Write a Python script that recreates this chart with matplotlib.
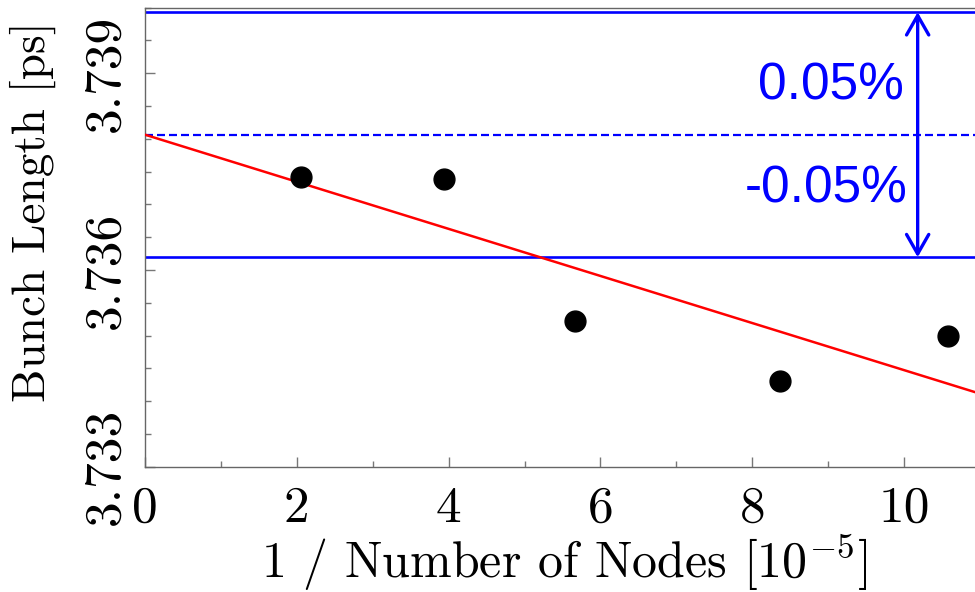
import numpy as np
import matplotlib
matplotlib.use("Agg")
import matplotlib.pyplot as plt
from matplotlib.ticker import FixedLocator, MultipleLocator, NullFormatter

plt.rcParams['font.family'] = ['cmr10', 'DejaVu Serif']
plt.rcParams['mathtext.fontset'] = 'cm'
plt.rcParams['axes.unicode_minus'] = False

# data
inv_nodes = [2.051, 3.935, 5.665, 8.366, 10.584]   # 1/N [1e-5]
bunch_length = [3.73742, 3.73738, 3.73522, 3.73431, 3.73500]  # ps
tolerance = 0.0005  # 0.05 %
y_ticks = [3.733, 3.736, 3.739]
y_tick_labels = ["3.733", "3.736", "3.739"]
x_ticks = [0, 2, 4, 6, 8, 10]

# linear fit, extrapolated to infinite nodes
slope, intercept = np.polyfit(inv_nodes, bunch_length, 1)
upper = intercept * (1 + tolerance)
lower = intercept * (1 - tolerance)

fig = plt.figure(figsize=(9.75, 5.92), dpi=100)
ax = fig.add_axes([145/975, 125.3/592, 11*75.9/975, 459/592])

xfit = np.array([0, 11])
ax.plot(xfit, intercept + slope*xfit, color='red', lw=1.8, zorder=3)
ax.axhline(upper, color='blue', lw=1.9)
ax.axhline(lower, color='blue', lw=1.9)
ax.axhline(intercept, color='blue', lw=1.6, dashes=(3.6, 1.8))
ax.plot(inv_nodes, bunch_length, 'o', color='black', ms=15, zorder=4)

ax.annotate('', xy=(10.18, upper), xytext=(10.18, lower),
            arrowprops=dict(arrowstyle='<->,head_length=0.7,head_width=0.4',
                            color='blue', lw=2.4, mutation_scale=20,
                            shrinkA=0, shrinkB=0))
ax.text(10.0, 3.73880, '0.05%', color='blue', fontsize=37,
        family='Liberation Sans', ha='right', va='center')
ax.text(10.05, 3.73723, '-0.05%', color='blue', fontsize=37,
        family='Liberation Sans', ha='right', va='center')

ax.set_xlim(0, 11)
ax.set_ylim(3.733, 3.740)

ax.xaxis.set_major_locator(FixedLocator(x_ticks))
ax.xaxis.set_minor_locator(MultipleLocator(1))
ax.set_xticklabels([str(t) for t in x_ticks])
ax.yaxis.set_major_locator(FixedLocator(y_ticks))
ax.yaxis.set_minor_locator(MultipleLocator(0.0005))
ax.yaxis.set_minor_formatter(NullFormatter())
ax.set_yticklabels(y_tick_labels, rotation=90, va='center')

ax.tick_params(which='both', direction='in', color='#777777', width=1)
ax.tick_params(which='major', length=7, labelsize=37)
ax.tick_params(axis='x', which='major', pad=14)
ax.tick_params(axis='y', which='major', pad=12)
ax.tick_params(which='minor', length=4.5)
for s in ax.spines.values():
    s.set_color('#666666')
    s.set_linewidth(1)

fig.text(33/975, 1 - 212/592, 'Bunch Length [ps]', rotation=90,
         ha='center', va='center', fontsize=34)
fig.text(564/975, 1 - 563/592, '1 / Number of Nodes [$10^{-5}$]',
         ha='center', va='center', fontsize=36)

fig.savefig('out.png', dpi=100)
